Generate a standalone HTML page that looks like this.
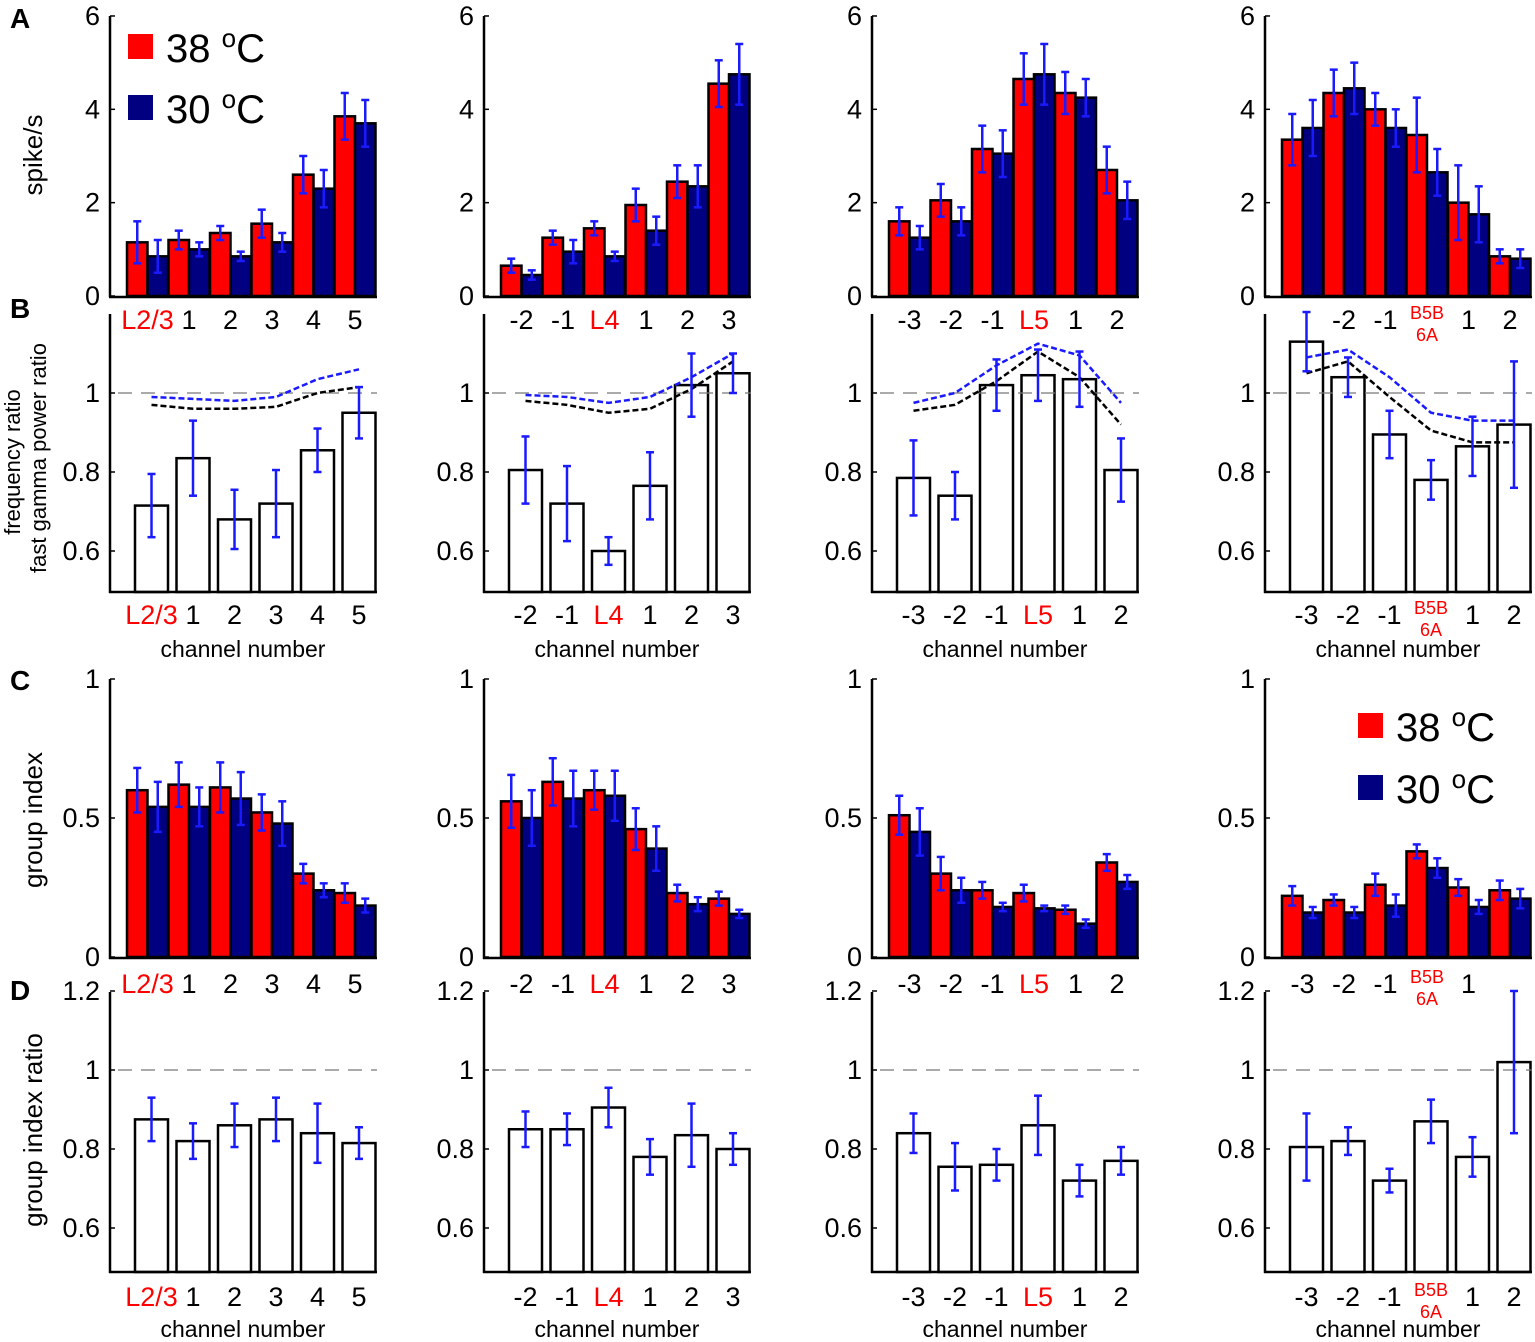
<!DOCTYPE html>
<html><head><meta charset="utf-8"><style>
html,body{margin:0;padding:0;background:#fff}
svg text{font-family:"Liberation Sans",Arial,sans-serif}
</style></head><body>
<svg id="s" width="1535" height="1337" xmlns="http://www.w3.org/2000/svg"></svg>
<script>
const S=document.getElementById('s');let h='';
const X0=[110,484,872,1265];
const RED='#ff0000',NAVY='#000080',EB='#1a1aff';
function t(x,y,s,o){o=o||{};h+=`<text x="${x}" y="${y}" font-size="${o.fs||27}" fill="${o.c||'#000'}" text-anchor="${o.a||'middle'}" ${o.b?'font-weight="bold"':''} ${o.r?`transform="rotate(-90 ${x} ${y})"`:''}>${s}</text>`;}
function L(x1,y1,x2,y2,c,w,d){h+=`<line x1="${x1}" y1="${y1}" x2="${x2}" y2="${y2}" stroke="${c}" stroke-width="${w}" ${d?`stroke-dasharray="${d}"`:''}/>`;}
function R(x,y,w,hh,f){h+=`<rect x="${x}" y="${Math.min(y,y+hh)}" width="${w}" height="${Math.abs(hh)}" fill="${f}" stroke="#000" stroke-width="2.5"/>`;}
function eb(x,yl,yh){L(x,yl,x,yh,EB,2.5);L(x-4,yl,x+4,yl,EB,2.5);L(x-4,yh,x+4,yh,EB,2.5);}
const labs=[['L2/3','1','2','3','4','5'],['-2','-1','L4','1','2','3'],['-3','-2','-1','L5','1','2'],['-3','-2','-1','B5B','1','2']];
const red=[2,2,3,3];
function xl(c,y,centers,skip){labs[c].forEach((s,i)=>{if(skip&&skip.includes(i))return;const cx=centers[i];
 if(s==='B5B'){t(cx,y-10,'B5B',{fs:18,c:RED});t(cx,y+12,'6A',{fs:18,c:RED});}
 else t(cx,y,s,{c:(c===0&&i===0)||(c>0&&i===red[c])?RED:'#000'});});}
const A=[
[[1.15,.45,.85,.35],[1.2,.2,1.0,.15],[1.35,.15,.85,.1],[1.55,.3,1.15,.2],[2.6,.4,2.3,.4],[3.85,.5,3.7,.5]],
[[.65,.15,.45,.1],[1.25,.15,.95,.25],[1.45,.15,.85,.1],[1.95,.35,1.4,.3],[2.45,.35,2.35,.45],[4.55,.5,4.75,.65]],
[[1.6,.3,1.25,.25],[2.05,.35,1.6,.3],[3.15,.5,3.05,.5],[4.65,.55,4.75,.65],[4.35,.45,4.25,.4],[2.7,.5,2.05,.4]],
[[3.35,.55,3.6,.6],[4.35,.5,4.45,.55],[4.0,.35,3.6,.4],[3.45,.8,2.65,.5],[2.0,.8,1.75,.6],[.85,.15,.8,.2]]];
const C=[
[[.60,.08,.54,.09],[.62,.08,.54,.07],[.61,.09,.57,.095],[.52,.065,.48,.08],[.30,.035,.24,.025],[.23,.035,.185,.025]],
[[.56,.095,.50,.1],[.63,.085,.57,.1],[.60,.07,.58,.09],[.46,.075,.39,.08],[.23,.03,.19,.025],[.21,.025,.155,.015]],
[[.51,.07,.45,.085],[.30,.06,.24,.045],[.24,.03,.18,.015],[.23,.03,.175,.01],[.17,.015,.12,.015],[.34,.03,.27,.025]],
[[.22,.035,.16,.02],[.205,.02,.16,.02],[.26,.04,.185,.04],[.38,.025,.32,.035],[.25,.03,.18,.025],[.24,.035,.21,.035]]];
const B=[
[[.715,.08],[.835,.095],[.68,.075],[.72,.085],[.855,.055],[.95,.065]],
[[.805,.085],[.72,.095],[.60,.035],[.765,.085],[1.02,.08],[1.05,.05]],
[[.785,.095],[.74,.06],[1.02,.065],[1.045,.065],[1.035,.07],[.805,.08]],
[[1.13,.075],[1.04,.05],[.895,.06],[.78,.05],[.865,.075],[.92,.16]]];
const BL=[[.99,.985,.98,.99,1.035,1.06],[.995,.99,.975,.99,1.04,1.1],[.975,1.0,1.07,1.125,1.095,.975],[1.09,1.11,1.04,.95,.93,.93]];
const BK=[[.97,.96,.96,.965,1.0,1.015],[.98,.97,.95,.96,1.01,1.08],[.955,.97,1.03,1.105,1.04,.92],[1.05,1.08,.99,.905,.875,.875]];
const D=[
[[.875,.055],[.82,.045],[.86,.055],[.875,.055],[.84,.075],[.815,.04]],
[[.85,.045],[.85,.04],[.905,.05],[.78,.045],[.835,.08],[.80,.04]],
[[.84,.05],[.755,.06],[.76,.04],[.86,.075],[.72,.04],[.77,.035]],
[[.805,.085],[.82,.035],[.72,.03],[.87,.055],[.78,.05],[1.02,.18]]];
const yA=v=>296-v*46.67, yB=v=>393-(v-1)*395, yC=v=>957-v*278, yD=v=>1070-(v-1)*395;
for(let c=0;c<4;c++){
 const x0=X0[c], xe=x0+267;
 const gc=[];
 A[c].forEach((d,i)=>{const s=x0+17+41.5*i;gc.push(s+20.5);
  R(s,yA(d[0]),20.5,yA(0)-yA(d[0]),RED);R(s+20.5,yA(d[2]),20.5,yA(0)-yA(d[2]),NAVY);});
 A[c].forEach((d,i)=>{const s=x0+17+41.5*i;eb(s+10.25,yA(d[0]-d[1]),yA(d[0]+d[1]));eb(s+30.75,yA(d[2]-d[3]),yA(d[2]+d[3]));});
 L(x0,16,x0,297,'#000',2.5);L(x0-1,297,xe,297,'#000',2.5);
 [0,2,4,6].forEach(v=>{t(x0-10,yA(v)+9,v,{a:'end'});L(x0,yA(v),x0+5,yA(v),'#000',1.5);});
 xl(c,329,gc,c===3?[0]:null);
 const bc=[];
 B[c].forEach((d,i)=>{const s=x0+25+41.5*i;bc.push(s+16.5);R(s,yB(d[0]),33,592-yB(d[0]),'#fff');});
 L(x0+8,yB(1),xe,yB(1),'#777',1.2,'14,9');
 const pl=(arr,col)=>{h+=`<polyline points="${arr.map((v,i)=>bc[i]+','+yB(v)).join(' ')}" fill="none" stroke="${col}" stroke-width="2.5" stroke-dasharray="6,3"/>`;};
 pl(BK[c],'#000');pl(BL[c],'#1a1aff');
 B[c].forEach((d,i)=>eb(bc[i],yB(d[0]-d[1]),yB(d[0]+d[1])));
 L(x0,314,x0,593,'#000',2.5);L(x0-1,592,xe,592,'#000',2.5);
 [[.6,'0.6'],[.8,'0.8'],[1,'1']].forEach(([v,s])=>{t(x0-10,yB(v)+9,s,{a:'end'});L(x0,yB(v),x0+5,yB(v),'#000',1.5);});
 xl(c,624,bc);t(x0+133,657,'channel number',{fs:23});
 const cc=[];
 C[c].forEach((d,i)=>{const s=x0+17+41.5*i;cc.push(s+20.5);
  R(s,yC(d[0]),20.5,yC(0)-yC(d[0]),RED);R(s+20.5,yC(d[2]),20.5,yC(0)-yC(d[2]),NAVY);});
 C[c].forEach((d,i)=>{const s=x0+17+41.5*i;eb(s+10.25,yC(d[0]-d[1]),yC(d[0]+d[1]));eb(s+30.75,yC(d[2]-d[3]),yC(d[2]+d[3]));});
 L(x0,679,x0,959,'#000',2.5);L(x0-1,958,xe,958,'#000',2.5);
 [[0,'0'],[.5,'0.5'],[1,'1']].forEach(([v,s])=>{t(x0-10,yC(v)+9,s,{a:'end'});L(x0,yC(v),x0+5,yC(v),'#000',1.5);});
 xl(c,993,cc,c===3?[5]:null);
 const dc=[];
 D[c].forEach((d,i)=>{const s=x0+25+41.5*i;dc.push(s+16.5);R(s,yD(d[0]),33,1272-yD(d[0]),'#fff');});
 L(x0+8,yD(1),xe,yD(1),'#777',1.2,'14,9');
 D[c].forEach((d,i)=>eb(dc[i],yD(d[0]-d[1]),yD(d[0]+d[1])));
 L(x0,992,x0,1273,'#000',2.5);L(x0-1,1272,xe,1272,'#000',2.5);
 [[.6,'0.6'],[.8,'0.8'],[1,'1'],[1.2,'1.2']].forEach(([v,s])=>{t(x0-10,yD(v)+9,s,{a:'end'});L(x0,yD(v),x0+5,yD(v),'#000',1.5);});
 xl(c,1306,dc);t(x0+133,1337,'channel number',{fs:23});
}
t(10,28,'A',{a:'start',b:1,fs:28});t(10,318,'B',{a:'start',b:1,fs:28});t(10,690,'C',{a:'start',b:1,fs:28});t(10,1000,'D',{a:'start',b:1,fs:28});
t(42,155,'spike/s',{r:1,fs:26});
t(20,462,'frequency ratio',{r:1,fs:22});t(46,458,'fast gamma power ratio',{r:1,fs:22});
t(42,820,'group index',{r:1,fs:26});t(42,1130,'group index ratio',{r:1,fs:26});
function leg(x,y1,y2){h+=`<rect x="${x}" y="${y1}" width="25" height="25" fill="${RED}"/><rect x="${x}" y="${y2}" width="25" height="25" fill="${NAVY}"/>`;
 h+=`<text x="${x+38}" y="${y1+28}" font-size="40">38 <tspan font-size="26" dy="-15">o</tspan><tspan dy="15">C</tspan></text>`;
 h+=`<text x="${x+38}" y="${y2+28}" font-size="40">30 <tspan font-size="26" dy="-15">o</tspan><tspan dy="15">C</tspan></text>`;}
leg(128,34,95);leg(1358,713,775);
S.innerHTML=h;
</script>
</body></html>
